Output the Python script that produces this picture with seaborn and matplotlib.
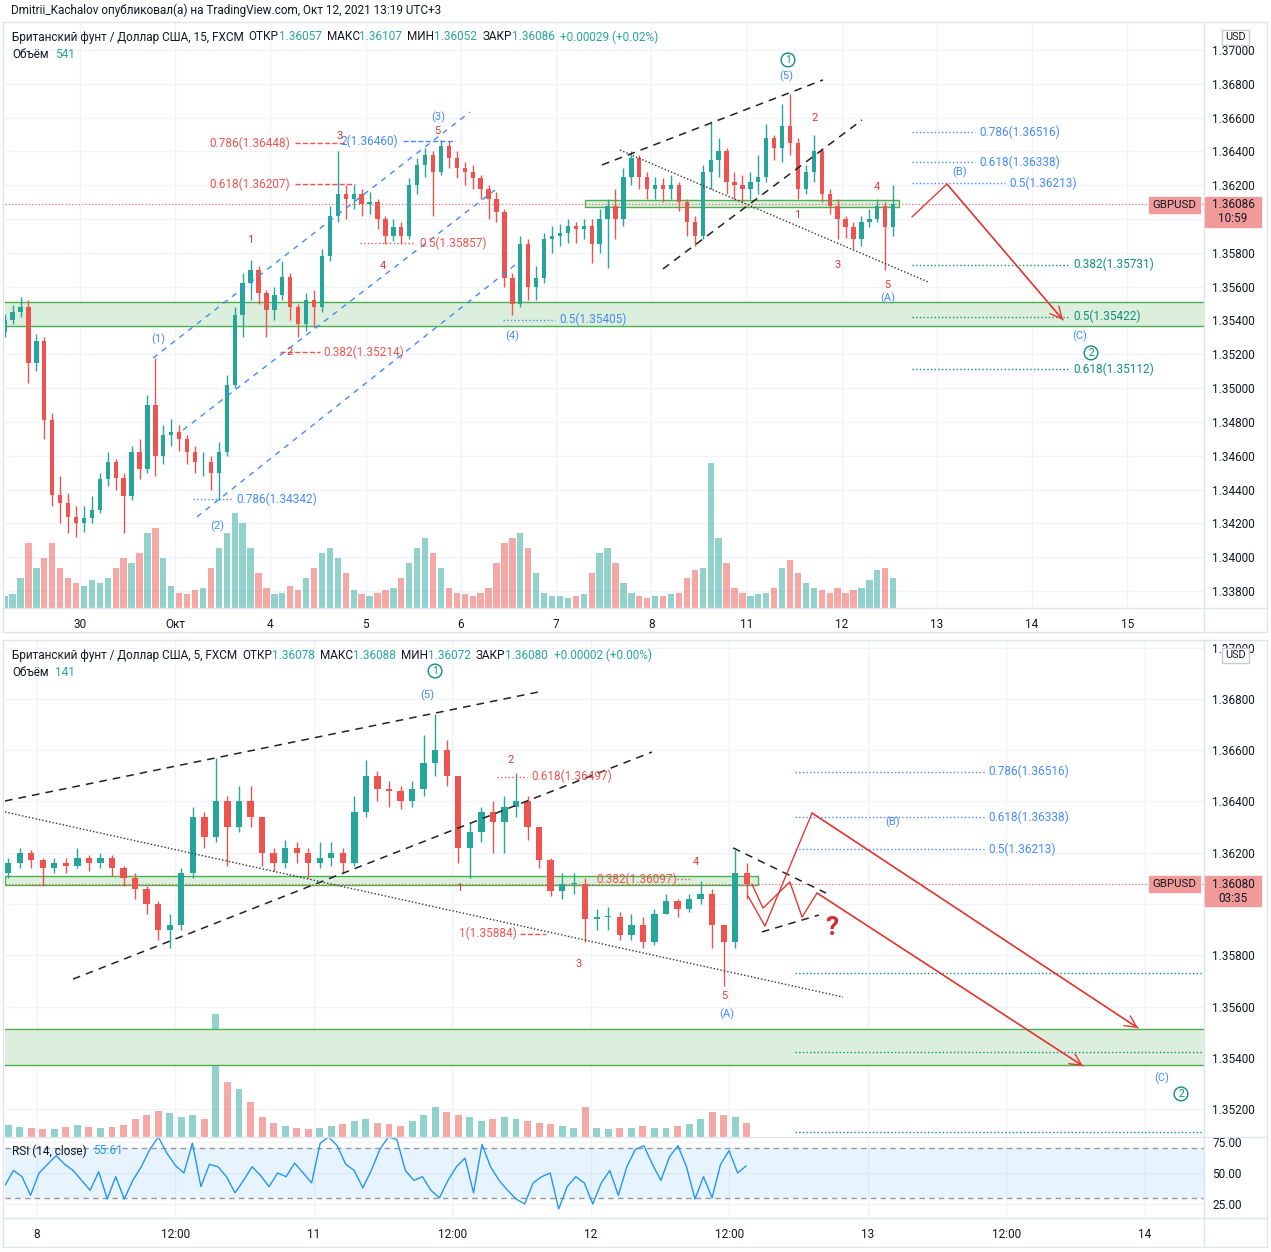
import numpy as np
import seaborn as sns
import matplotlib.pyplot as plt
from matplotlib.patches import Rectangle
from matplotlib.lines import Line2D
from matplotlib.transforms import blended_transform_factory

W, H = 1271, 1252
UP, DOWN = "#26a69a", "#ef5350"
RED, FIB_RED, BLUE, TEAL = "#e53935", "#ef5350", "#448aff", "#0e8f7c"
GRID, BORDER, TXT = "#f0f3fa", "#e0e3eb", "#131722"

# ---------------- data ----------------
# top pane: GBPUSD 15m view, resampled to 2-hour candles (time in trading days from Sep 30)
top_start = -19 / 24
top_open_first = 1.3533
top_close = [1.3540, 1.3545, 1.3548, 1.3515, 1.3528, 1.3481, 1.3437, 1.3432, 1.3424, 1.3420,
             1.3423, 1.3428, 1.3446, 1.3456, 1.3447, 1.3436, 1.3462, 1.3452, 1.3490, 1.3460,
             1.3472, 1.3474, 1.3470, 1.3462, 1.3456, 1.3456, 1.3450, 1.3462, 1.3502, 1.3543,
             1.3562, 1.3570, 1.3556, 1.3546, 1.3555, 1.3566, 1.3548, 1.3538, 1.3552, 1.3548,
             1.3578, 1.3602, 1.3615, 1.3612, 1.3615, 1.3609, 1.3610, 1.3600, 1.3590, 1.3595,
             1.3590, 1.3620, 1.3632, 1.3638, 1.3628, 1.3643, 1.3636, 1.3630, 1.3628, 1.3624,
             1.3618, 1.3612, 1.3604, 1.3565, 1.3550, 1.3585, 1.3560, 1.3565, 1.3588, 1.3590,
             1.3592, 1.3596, 1.3594, 1.3596, 1.3585, 1.3600, 1.3608, 1.3600, 1.3625, 1.3636,
             1.3625, 1.3618, 1.3620, 1.3618, 1.3620, 1.3610, 1.3598, 1.3590, 1.3628, 1.3635,
             1.3640, 1.3622, 1.3620, 1.3618, 1.3622, 1.3625, 1.3648, 1.3642, 1.3655, 1.3645,
             1.3618, 1.3628, 1.3640, 1.3615, 1.3608, 1.3600, 1.3595, 1.3588, 1.3598, 1.3600,
             1.3608, 1.3595, 1.36086]
top_high = [1.3544, 1.3549, 1.3554, 1.3552, 1.3532, 1.3530, 1.3485, 1.3448, 1.3438, 1.3430,
            1.3430, 1.3436, 1.3450, 1.3462, 1.3458, 1.3450, 1.3466, 1.3470, 1.3496, 1.3518,
            1.3478, 1.3482, 1.3478, 1.3472, 1.3466, 1.3462, 1.3460, 1.3468, 1.3508, 1.3548,
            1.3568, 1.3576, 1.3572, 1.3558, 1.3560, 1.3575, 1.3568, 1.3550, 1.3556, 1.3558,
            1.3582, 1.3608, 1.3640, 1.3620, 1.3620, 1.3618, 1.3616, 1.3612, 1.3602, 1.3600,
            1.3598, 1.3624, 1.3636, 1.3642, 1.3640, 1.3647, 1.3646, 1.3640, 1.3634, 1.3632,
            1.3626, 1.3620, 1.3616, 1.3606, 1.3568, 1.3590, 1.3588, 1.3572, 1.3592, 1.3596,
            1.3597, 1.3600, 1.3598, 1.3600, 1.3600, 1.3606, 1.3612, 1.3618, 1.3630, 1.3640,
            1.3638, 1.3628, 1.3625, 1.3624, 1.3626, 1.3622, 1.3612, 1.3602, 1.3632, 1.3658,
            1.3648, 1.3642, 1.3628, 1.3626, 1.3628, 1.3638, 1.3656, 1.3650, 1.3668, 1.3674,
            1.3648, 1.3632, 1.3650, 1.3642, 1.3618, 1.3612, 1.3602, 1.3598, 1.3602, 1.3606,
            1.3612, 1.3610, 1.3620]
top_low = [1.3530, 1.3538, 1.3542, 1.3503, 1.3510, 1.3470, 1.3430, 1.3420, 1.3414, 1.3412,
           1.3415, 1.3420, 1.3426, 1.3442, 1.3440, 1.3414, 1.3434, 1.3446, 1.3450, 1.3448,
           1.3455, 1.3466, 1.3463, 1.3455, 1.3450, 1.3448, 1.3440, 1.3434, 1.3460, 1.3500,
           1.3530, 1.3552, 1.3550, 1.3530, 1.3540, 1.3552, 1.3540, 1.3530, 1.3534, 1.3536,
           1.3545, 1.3575, 1.3598, 1.3600, 1.3606, 1.3602, 1.3603, 1.3594, 1.3585, 1.3587,
           1.3585, 1.3588, 1.3615, 1.3625, 1.3602, 1.3626, 1.3630, 1.3624, 1.3620, 1.3618,
           1.3612, 1.3600, 1.3598, 1.3560, 1.3543, 1.3548, 1.3552, 1.3552, 1.3562, 1.3580,
           1.3584, 1.3586, 1.3586, 1.3588, 1.3574, 1.3580, 1.3571, 1.3588, 1.3596, 1.3620,
           1.3618, 1.3612, 1.3612, 1.3610, 1.3612, 1.3605, 1.3590, 1.3584, 1.3588, 1.3618,
           1.3625, 1.3615, 1.3612, 1.3610, 1.3612, 1.3615, 1.3622, 1.3635, 1.3634, 1.3638,
           1.3612, 1.3615, 1.3622, 1.3610, 1.3603, 1.3588, 1.3589, 1.3582, 1.3584, 1.3595,
           1.3598, 1.3570, 1.3590]
top_volume = [12, 14, 30, 65, 40, 50, 65, 40, 30, 25,
              22, 28, 25, 30, 40, 50, 45, 55, 75, 80,
              50, 22, 15, 14, 18, 20, 40, 60, 75, 95,
              85, 60, 35, 20, 14, 15, 22, 18, 30, 40,
              55, 60, 50, 35, 18, 14, 12, 15, 18, 20,
              30, 45, 60, 70, 55, 40, 20, 15, 14, 12,
              15, 20, 45, 65, 70, 75, 60, 35, 15, 12,
              12, 10, 12, 14, 35, 55, 60, 45, 25, 15,
              12, 10, 12, 12, 14, 15, 30, 38, 40, 145,
              70, 45, 20, 15, 12, 14, 15, 20, 40, 48,
              35, 25, 20, 18, 15, 20, 15, 18, 20, 28,
              38, 40, 30]
top_day_labels = ["30", "Окт", "4", "5", "6", "7", "8", "11", "12", "13", "14", "15"]

# bottom pane: GBPUSD 5m view, resampled to 1-hour candles (time in trading days from Oct 8)
bot_start = -2.5 / 24
bot_open_first = 1.3612
bot_close = [1.3616, 1.3620, 1.3617, 1.3614, 1.3616, 1.3615, 1.3618, 1.3616, 1.3618, 1.3614,
             1.3610, 1.3606, 1.3600, 1.3590, 1.3592, 1.3612, 1.3634, 1.3626, 1.3640, 1.3630,
             1.3640, 1.3634, 1.3620, 1.3616, 1.3622, 1.3620, 1.3616, 1.3618, 1.3620, 1.3616,
             1.3636, 1.3650, 1.3645, 1.3644, 1.3640, 1.3645, 1.3655, 1.3660, 1.3650, 1.3622,
             1.3628, 1.3636, 1.3632, 1.3638, 1.3640, 1.3630, 1.3617, 1.3605, 1.3608, 1.3608,
             1.3594, 1.3595, 1.3595, 1.3588, 1.3592, 1.3585, 1.3596, 1.3601, 1.3598, 1.3602,
             1.3604, 1.3592, 1.3585, 1.3612, 1.36080]
bot_high = [1.3618, 1.3622, 1.3621, 1.3618, 1.3618, 1.3618, 1.3622, 1.3619, 1.3620, 1.3619,
            1.3615, 1.3612, 1.3607, 1.3601, 1.3596, 1.3614, 1.3638, 1.3636, 1.3657, 1.3642,
            1.3646, 1.3646, 1.3634, 1.3622, 1.3625, 1.3624, 1.3622, 1.3624, 1.3624, 1.3622,
            1.3642, 1.3656, 1.3652, 1.3648, 1.3646, 1.3648, 1.3666, 1.3674, 1.3664, 1.3650,
            1.3632, 1.3638, 1.3640, 1.3642, 1.3651, 1.3642, 1.3630, 1.3618, 1.3612, 1.3612,
            1.3610, 1.3598, 1.3599, 1.3597, 1.3596, 1.3595, 1.3598, 1.3604, 1.3602, 1.3604,
            1.3609, 1.3606, 1.3592, 1.3621, 1.3616]
bot_low = [1.3610, 1.3614, 1.3614, 1.3607, 1.3612, 1.3612, 1.3614, 1.3613, 1.3614, 1.3611,
           1.3607, 1.3602, 1.3596, 1.3586, 1.3583, 1.3590, 1.3610, 1.3622, 1.3624, 1.3615,
           1.3628, 1.3630, 1.3615, 1.3613, 1.3614, 1.3616, 1.3610, 1.3614, 1.3615, 1.3612,
           1.3615, 1.3634, 1.3640, 1.3638, 1.3637, 1.3638, 1.3642, 1.3650, 1.3646, 1.3616,
           1.3610, 1.3624, 1.3620, 1.3620, 1.3634, 1.3625, 1.3614, 1.3603, 1.3602, 1.3604,
           1.3585, 1.3590, 1.3590, 1.3586, 1.3586, 1.3583, 1.3584, 1.3596, 1.3595, 1.3597,
           1.3600, 1.3583, 1.3568, 1.3583, 1.3602]
bot_volume = [12, 10, 9, 8, 8, 10, 12, 10, 9, 10,
              12, 18, 22, 26, 24, 20, 22, 18, 123, 55,
              48, 35, 20, 14, 11, 9, 8, 9, 11, 13,
              16, 18, 14, 13, 11, 16, 22, 30, 25, 22,
              20, 16, 18, 20, 18, 16, 14, 13, 11, 9,
              30, 9, 8, 9, 9, 11, 9, 9, 11, 13,
              18, 25, 22, 20, 14]
bot_time_labels = ["8", "12:00", "11", "12:00", "12", "12:00", "13", "12:00", "14"]

rsi_values = [40, 52, 47, 32, 50, 57, 64, 57, 52, 44,
              36, 51, 29, 47, 29, 44, 55, 69, 79, 66,
              56, 50, 74, 39, 57, 55, 47, 34, 44, 55,
              48, 39, 50, 47, 58, 50, 42, 74, 79, 72,
              57, 52, 38, 52, 69, 79, 77, 52, 44, 47,
              36, 30, 44, 55, 62, 34, 73, 55, 44, 36,
              29, 25, 42, 47, 50, 21, 39, 47, 42, 25,
              42, 52, 32, 55, 69, 72, 57, 44, 63, 72,
              55, 29, 47, 30, 57, 68, 50, 55.61]

sns.set_theme(style="white")
plt.rcParams["font.family"] = ["Roboto", "DejaVu Sans"]

fig = plt.figure(figsize=(W / 100, H / 100), dpi=100)


def rect(x0, y0, x1, y1):
    return [x0 / W, 1 - y1 / H, (x1 - x0) / W, (y1 - y0) / H]


def fline(x0, y0, x1, y1, color=BORDER):
    fig.add_artist(Line2D([x0 / W, x1 / W], [1 - y0 / H, 1 - y1 / H], color=color, lw=1))


def fbox(x0, y0, x1, y1, fc, ec=None):
    fig.add_artist(Rectangle((x0 / W, 1 - y1 / H), (x1 - x0) / W, (y1 - y0) / H,
                             transform=fig.transFigure, fc=fc, ec=ec or fc, lw=1, zorder=5))


def ftext(x, y, s, color=TXT, size=8.5, ha="left", **kw):
    return fig.text(x / W, 1 - y / H, s, color=color, fontsize=size, ha=ha, va="center", zorder=6, **kw)


def rich(x, y, parts, size=8.5):
    r = fig.canvas.get_renderer()
    for s, c, gap in parts:
        t = ftext(x, y, s, c, size)
        x += t.get_window_extent(r).width + gap


def candles(ax, start, step, first_open, close, high, low, volume, pane_px, vol_width):
    close = np.array(close)
    opens = np.concatenate([[first_open], close[:-1]])
    high = np.maximum(np.array(high), np.maximum(opens, close))
    low = np.minimum(np.array(low), np.minimum(opens, close))
    t = start + np.arange(len(close)) * step
    up = close >= opens
    cols = np.where(up, UP, DOWN)
    trans = blended_transform_factory(ax.transData, ax.transAxes)
    ax.bar(t, np.array(volume) / pane_px, width=step * vol_width, bottom=0, color=cols,
           alpha=0.5, transform=trans, zorder=1, linewidth=0)
    ax.vlines(t, low, high, colors=cols, lw=1, zorder=3)
    body = np.maximum(np.abs(close - opens), 0.00003)
    ax.bar(t, body, width=step * 0.55, bottom=np.minimum(opens, close), color=cols, zorder=3, linewidth=0)


def style(ax, xlim, ylim, yticks, ylabels, xticks, xlabels=None):
    ax.set_xlim(*xlim)
    ax.set_ylim(*ylim)
    ax.set_yticks(yticks)
    ax.set_yticklabels(ylabels)
    ax.yaxis.tick_right()
    ax.set_xticks(xticks)
    ax.set_xticklabels(xlabels if xlabels else [])
    ax.tick_params(axis="both", length=0, labelsize=8.5, labelcolor=TXT)
    ax.tick_params(axis="y", pad=6)
    ax.tick_params(axis="x", pad=7)
    ax.grid(True, color=GRID, lw=1)
    ax.set_axisbelow(True)
    for s in ax.spines.values():
        s.set_visible(False)


def hline(ax, t0, t1, p, color, ls=":", lw=1):
    ax.plot([t0, t1], [p, p], color=color, ls=ls, lw=lw, zorder=4)


def txt(ax, t, p, s, color, size=8.5, ha="center", **kw):
    ax.text(t, p, s, color=color, fontsize=size, ha=ha, va="center", zorder=6, **kw)


def circled(ax, t, p, s):
    ax.text(t, p, s, color=TEAL, fontsize=7.5, ha="center", va="center", zorder=6,
            bbox=dict(boxstyle="circle,pad=0.18", fc="white", ec=TEAL, lw=1))


def arrow(ax, a, b):
    ax.annotate("", xy=b, xytext=a, zorder=5,
                arrowprops=dict(arrowstyle="->,head_length=0.7,head_width=0.35", color=RED, lw=1,
                                shrinkA=0, shrinkB=0))


def price_labels(ticks, hidden):
    return ["" if abs(v - hidden) < 1e-6 else f"{v:.5f}" for v in ticks]


# ---------------- top pane ----------------
ax1 = fig.add_axes(rect(5, 22, 1204, 608))
ax1.set_facecolor("white")
top_ticks = np.round(np.arange(1.338, 1.3701, 0.002), 3)
style(ax1, (-0.788, 11.807), (1.33699, 1.371656), top_ticks, price_labels(top_ticks, 1.360),
      np.arange(len(top_day_labels)), top_day_labels)

ax1.axhspan(1.35367, 1.35509, color="#dcefdc", zorder=2)
ax1.axhline(1.35509, color="#4caf50", lw=1, zorder=2)
ax1.axhline(1.35367, color="#4caf50", lw=1, zorder=2)
ax1.add_patch(Rectangle((5.305, 1.36071), 3.298, 0.00042, fc="#dcefdc", ec="#4caf50", lw=1, zorder=2))
candles(ax1, top_start, 1 / 12, top_open_first, top_close, top_high, top_low, top_volume, 586, 0.8)
ax1.axhline(1.36086, color=DOWN, ls=(0, (1, 2)), lw=0.8, zorder=2)

# elliott channel (blue) and wedge lines (black)
for (t0, p0), (t1, p1) in [((0.767, 1.35178), (4.097, 1.36633)), ((1.082, 1.34752), (4.359, 1.36172)),
                           ((1.229, 1.34238), (4.569, 1.35728))]:
    ax1.plot([t0, t1], [p0, p1], color=BLUE, ls=(0, (4, 4)), lw=1, zorder=4)
for (t0, p0), (t1, p1) in [((5.483, 1.36320), (7.805, 1.36823)), ((6.124, 1.35705), (8.214, 1.36586))]:
    ax1.plot([t0, t1], [p0, p1], color="#222222", ls=(0, (5, 4)), lw=1.1, zorder=4)
ax1.plot([5.672, 8.908], [1.36408, 1.35628], color="#333333", ls=(0, (1, 1.5)), lw=1, zorder=4)

# fib levels
hline(ax1, 2.258, 2.784, 1.36448, FIB_RED, "--")
txt(ax1, 2.206, 1.36448, "0.786(1.36448)", FIB_RED, ha="right")
hline(ax1, 2.258, 2.889, 1.36207, FIB_RED, "--")
txt(ax1, 2.206, 1.36207, "0.618(1.36207)", FIB_RED, ha="right")
hline(ax1, 2.10, 2.52, 1.35214, FIB_RED, "--")
txt(ax1, 2.552, 1.35214, "0.382(1.35214)", FIB_RED, ha="left")
hline(ax1, 2.941, 3.519, 1.35857, FIB_RED, ":")
txt(ax1, 3.561, 1.35857, "0.5(1.35857)", FIB_RED, ha="left")
hline(ax1, 3.393, 3.939, 1.36460, BLUE, "--")
txt(ax1, 2.74, 1.36460, "2(1.36460)", BLUE, ha="left")
hline(ax1, 1.187, 1.607, 1.34342, BLUE, ":")
txt(ax1, 1.64, 1.34342, "0.786(1.34342)", BLUE, ha="left")
hline(ax1, 4.443, 4.989, 1.35405, BLUE, ":")
txt(ax1, 5.031, 1.35405, "0.5(1.35405)", BLUE, ha="left")
for p, lab, t1 in [(1.36516, "0.786(1.36516)", 9.401), (1.36338, "0.618(1.36338)", 9.401),
                   (1.36213, "0.5(1.36213)", 9.716)]:
    hline(ax1, 8.739, t1, p, BLUE)
    txt(ax1, t1 + 0.05, p, lab, BLUE, ha="left")
for p, lab in [(1.35731, "0.382(1.35731)"), (1.35422, "0.5(1.35422)"), (1.35112, "0.618(1.35112)")]:
    hline(ax1, 8.739, 10.378, p, TEAL)
    txt(ax1, 10.431, p, lab, TEAL, ha="left")

ax1.plot([8.739, 9.107, 10.326], [1.36012, 1.36207, 1.35403], color=RED, lw=1, zorder=5)
arrow(ax1, (9.107, 1.36207), (10.326, 1.35403))

for t, p, s in [(1.786, 1.35876, "1"), (2.206, 1.35214, "2"), (2.731, 1.36491, "3"), (3.183, 1.35722, "4"),
                (3.75, 1.36521, "5"), (7.721, 1.36598, "2"), (7.532, 1.36024, "1"), (7.962, 1.35728, "3"),
                (8.372, 1.36190, "4"), (8.477, 1.35610, "5")]:
    txt(ax1, t, p, s, RED, size=8)
for t, p, s in [(0.819, 1.35291, "(1)"), (1.439, 1.34184, "(2)"), (3.761, 1.36604, "(3)"),
                (4.538, 1.35308, "(4)"), (7.416, 1.36846, "(5)"), (8.487, 1.35533, "(A)"),
                (9.244, 1.36278, "(B)"), (10.504, 1.35308, "(C)")]:
    txt(ax1, t, p, s, BLUE, size=8)
circled(ax1, 7.437, 1.36941, "1")
circled(ax1, 10.62, 1.35208, "2")

# ---------------- bottom pane ----------------
ax2 = fig.add_axes(rect(5, 640, 1204, 1137))
bot_ticks = np.round(np.arange(1.352, 1.3701, 0.002), 3)
style(ax2, (-0.1155, 4.213), (1.35091, 1.37030), bot_ticks, price_labels(bot_ticks, 1.360),
      np.arange(0, 4.01, 0.5))

ax2.axhspan(1.35372, 1.35512, color="#dcefdc", zorder=2)
ax2.axhline(1.35512, color="#4caf50", lw=1, zorder=2)
ax2.axhline(1.35372, color="#4caf50", lw=1, zorder=2)
ax2.add_patch(Rectangle((-0.1155, 1.36074), 2.7185, 0.00035, fc="#dcefdc", ec="#4caf50", lw=1, zorder=2))
candles(ax2, bot_start, 1 / 24, bot_open_first, bot_close, bot_high, bot_low, bot_volume, 497, 0.6)
ax2.axhline(1.36080, color=DOWN, ls=(0, (1, 2)), lw=0.8, zorder=2)

for (t0, p0), (t1, p1) in [((-0.1155, 1.36402), (1.809, 1.36827)), ((0.130, 1.35707), (2.220, 1.36593)),
                           ((2.513, 1.36219), (2.848, 1.36043)), ((2.617, 1.35891), (2.823, 1.35957))]:
    ax2.plot([t0, t1], [p0, p1], color="#222222", ls=(0, (5, 4)), lw=1.1, zorder=4)
ax2.plot([-0.1155, 2.910], [1.36359, 1.35637], color="#333333", ls=(0, (1, 1.5)), lw=1, zorder=4)

ax2.plot([2.581, 2.621, 2.718, 2.762, 2.816, 3.776], [1.36078, 1.35984, 1.36086, 1.35949, 1.36043, 1.35368],
         color=RED, lw=1, zorder=5)
arrow(ax2, (2.816, 1.36043), (3.776, 1.35368))
ax2.plot([2.567, 2.628, 2.798, 3.975], [1.36031, 1.35914, 1.36355, 1.35516], color=RED, lw=1, zorder=5)
arrow(ax2, (2.798, 1.36355), (3.975, 1.35516))

hline(ax2, 1.661, 1.769, 1.36497, FIB_RED, ":")
txt(ax2, 1.783, 1.36497, "0.618(1.36497)", FIB_RED, ha="left")
txt(ax2, 2.018, 1.36097, "0.382(1.36097)", FIB_RED, ha="left")
hline(ax2, 2.31, 2.365, 1.36097, FIB_RED, ":")
txt(ax2, 1.523, 1.35884, "1(1.35884)", FIB_RED, ha="left")
hline(ax2, 1.744, 1.838, 1.35884, FIB_RED, "--")
for p, lab in [(1.36516, "0.786(1.36516)"), (1.36338, "0.618(1.36338)"), (1.36213, "0.5(1.36213)")]:
    hline(ax2, 2.736, 3.422, p, BLUE)
    txt(ax2, 3.433, p, lab, BLUE, ha="left")
for p in [1.35731, 1.35422, 1.35112]:
    hline(ax2, 2.736, 4.213, p, TEAL)

for t, p, s in [(1.711, 1.36562, "2"), (1.523, 1.36062, "1"), (1.957, 1.35766, "3"),
                (2.379, 1.36164, "4"), (2.480, 1.35641, "5")]:
    txt(ax2, t, p, s, RED, size=8)
for t, p, s in [(1.408, 1.36816, "(5)"), (2.491, 1.35571, "(A)"), (3.090, 1.3632, "(B)"), (4.061, 1.35321, "(C)")]:
    txt(ax2, t, p, s, BLUE, size=8)
circled(ax2, 1.437, 1.36909, "1")
circled(ax2, 4.130, 1.35259, "2")
txt(ax2, 2.870, 1.35906, "?", "#d32f2f", size=19, fontweight="bold")

# ---------------- RSI pane ----------------
ax3 = fig.add_axes(rect(5, 1137, 1204, 1218))
style(ax3, (-0.1155, 4.213), (13.7, 79.0), [25, 50, 75], ["25.00", "50.00", "75.00"],
      np.arange(0, 4.01, 0.5), bot_time_labels)
ax3.axhspan(30, 70, color="#2196f3", alpha=0.1, lw=0, zorder=1)
ax3.axhline(70, color="#9598a1", ls=(0, (4, 3)), lw=1, zorder=2)
ax3.axhline(30, color="#9598a1", ls=(0, (4, 3)), lw=1, zorder=2)
rsi_t = np.linspace(-0.1155, 2.56, len(rsi_values))
sns.lineplot(x=rsi_t, y=rsi_values, ax=ax3, color="#2196f3", lw=1, zorder=3)
ax3.set_xlim(-0.1155, 4.213)
ax3.set_ylim(13.7, 79.0)
ax3.set_xlabel("")
ax3.set_ylabel("")

# ---------------- frame, separators, labels ----------------
for y0, y1 in [(22, 632), (640, 1247)]:
    fline(3, y0, 1267, y0)
    fline(3, y1, 1267, y1)
    fline(3, y0, 3, y1)
    fline(1267, y0, 1267, y1)
    fline(1204, y0, 1204, y1)
fline(3, 608, 1267, 608)
fline(3, 1137, 1267, 1137)
fline(3, 1218, 1267, 1218)

ftext(11, 10, "Dmitrii_Kachalov опубликовал(а) на TradingView.com, Окт 12, 2021 13:19 UTC+3", TXT, 8.5)
rich(12, 37, [("Британский фунт / Доллар США, 15, FXCM", TXT, 5), ("ОТКР", TXT, 0), ("1.36057", UP, 5),
              ("МАКС", TXT, 0), ("1.36107", UP, 5), ("МИН", TXT, 0), ("1.36052", UP, 5),
              ("ЗАКР", TXT, 0), ("1.36086", UP, 6), ("+0.00029 (+0.02%)", UP, 0)])
rich(12, 54, [("Объём", TXT, 6), ("541", UP, 0)])
rich(12, 655, [("Британский фунт / Доллар США, 5, FXCM", TXT, 5), ("ОТКР", TXT, 0), ("1.36078", UP, 5),
               ("МАКС", TXT, 0), ("1.36088", UP, 5), ("МИН", TXT, 0), ("1.36072", UP, 5),
               ("ЗАКР", TXT, 0), ("1.36080", UP, 6), ("+0.00002 (+0.00%)", UP, 0)])
rich(12, 672, [("Объём", TXT, 6), ("141", UP, 0)])
rich(12, 1151, [("RSI (14, close)", TXT, 6), ("55.61", "#2196f3", 0)])

for y, price, timer in [(205, "1.36086", "10:59"), (884, "1.36080", "03:35")]:
    fbox(1149, y - 8, 1200, y + 8, "#f09a9a")
    ftext(1174.5, y, "GBPUSD", TXT, 8.2, ha="center")
    fbox(1205, y - 8, 1261, y + 22, "#f09a9a")
    ftext(1233, y, price, TXT, 8.5, ha="center")
    ftext(1233, y + 14, timer, TXT, 8.5, ha="center")
for y in [37, 655]:
    fig.add_artist(Rectangle((1222 / W, 1 - (y + 8) / H), 27 / W, 15 / H, transform=fig.transFigure,
                             fc="white", ec="#c8cbd3", lw=1, zorder=5))
    ftext(1235.5, y, "USD", TXT, 7.8, ha="center")

fig.savefig("out.png", dpi=100, facecolor="white")
